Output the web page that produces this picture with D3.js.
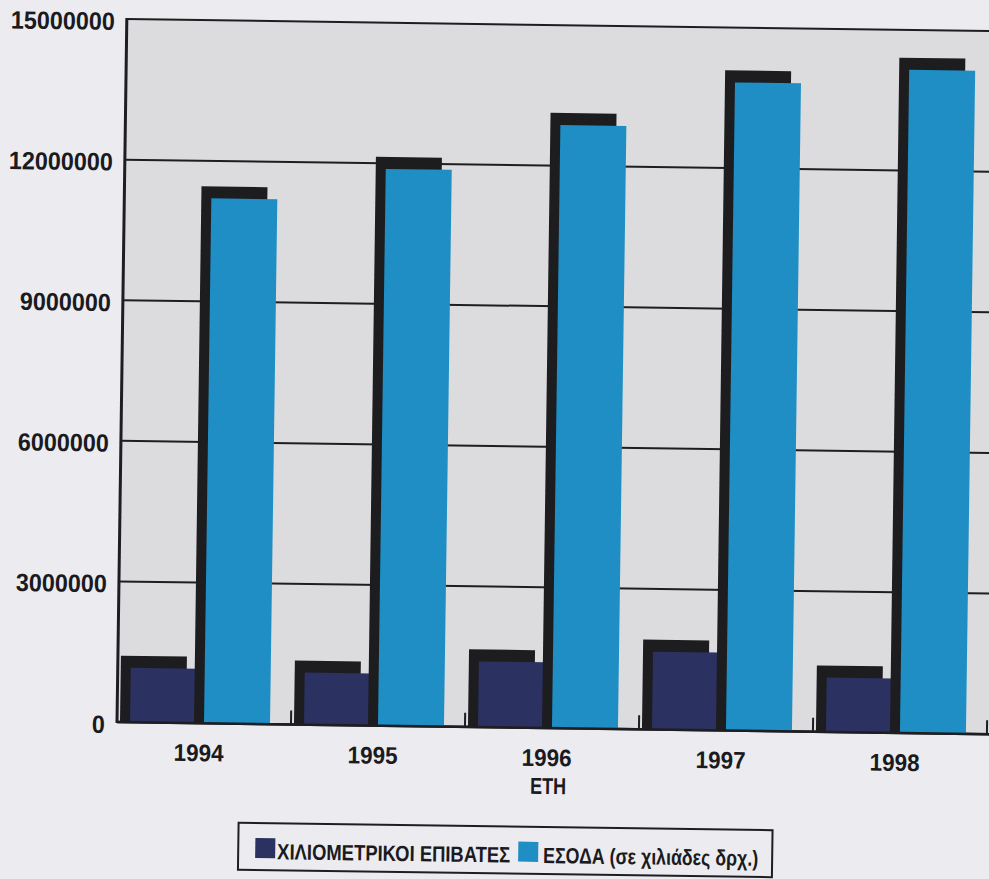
<!DOCTYPE html>
<html>
<head>
<meta charset="utf-8">
<script src="https://cdn.jsdelivr.net/npm/d3@7"></script>
<style>
  html, body { margin: 0; padding: 0; background: #ececf0; }
  svg { display: block; }
  text { font-family: "Liberation Sans Narrow", "Liberation Sans", "DejaVu Sans Condensed", Arial, sans-serif; font-weight: bold; fill: #1a1a20; }
</style>
</head>
<body>
<svg id="chart" width="989" height="879"></svg>
<script>
const years = ["1994", "1995", "1996", "1997", "1998"];
const seriesNames = ["ΧΙΛΙΟΜΕΤΡΙΚΟΙ ΕΠΙΒΑΤΕΣ", "ΕΣΟΔΑ (σε χιλιάδες δρχ.)"];
const passengerKm = [1160000, 1110000, 1400000, 1660000, 1160000];
const revenue = [11200000, 11880000, 12870000, 13830000, 14150000];
const yTicks = [0, 3000000, 6000000, 9000000, 12000000, 15000000];
const xTitle = "ΕΤΗ";

const seriesData = [passengerKm, revenue];
const colors = ["#2b3160", "#1e8ec4"];
const shadowColor = "#1d1d20";

const W = 989, H = 879;
const plotLeft = 117, plotBottom = 722, plotTop = 19, bandW = 174;
const svg = d3.select("#chart");
svg.append("rect").attr("width", W).attr("height", H).attr("fill", "#ececf0");

// whole scan is slightly tilted
const g = svg.append("g").attr("transform", `rotate(0.8, ${plotLeft}, ${plotBottom})`);

const x0 = d3.scaleBand().domain(years).range([plotLeft, plotLeft + bandW * years.length]).padding(0);
const x1 = d3.scaleBand().domain([0, 1]).range([13, 153]).paddingInner(8 / 74).paddingOuter(0);
const y = d3.scaleLinear().domain([0, 15000000]).range([plotBottom, plotTop]);

// plot background
g.append("rect").attr("x", plotLeft).attr("y", y(15000000))
  .attr("width", 1010 - plotLeft).attr("height", plotBottom - y(15000000))
  .attr("fill", "#dcdcdf");

// gridlines
g.append("g").selectAll("line").data(yTicks).join("line")
  .attr("x1", plotLeft).attr("x2", 1010)
  .attr("y1", d => y(d)).attr("y2", d => y(d))
  .attr("stroke", "#1e1e22").attr("stroke-width", d => d === 0 ? 2.5 : 2);

// y tick labels
g.append("g").selectAll("text").data(yTicks).join("text")
  .attr("x", 105).attr("y", d => y(d) + 11)
  .attr("text-anchor", "end")
  .attr("font-size", 25)
  .attr("textLength", d => String(d).length * 13)
  .attr("lengthAdjust", "spacingAndGlyphs")
  .text(d => String(d));

// bars
const groups = g.append("g").selectAll("g").data(years).join("g")
  .attr("transform", d => `translate(${x0(d)},0)`);

[0, 1].forEach(s => {
  const bw = x1.bandwidth();
  groups.append("rect")
    .attr("x", x1(s) - 10)
    .attr("y", (d, i) => y(seriesData[s][i]) - 12)
    .attr("width", bw)
    .attr("height", (d, i) => plotBottom - y(seriesData[s][i]) + 12)
    .attr("fill", shadowColor);
  groups.append("rect")
    .attr("x", x1(s))
    .attr("y", (d, i) => y(seriesData[s][i]))
    .attr("width", bw)
    .attr("height", (d, i) => plotBottom - y(seriesData[s][i]))
    .attr("fill", colors[s]);
});

// baseline redraw
g.append("line").attr("x1", plotLeft).attr("x2", 1010).attr("y1", plotBottom).attr("y2", plotBottom)
  .attr("stroke", "#1e1e22").attr("stroke-width", 2.5);

// small category separators
g.append("g").selectAll("line").data(years).join("line")
  .attr("x1", d => x0(d) + bandW).attr("x2", d => x0(d) + bandW)
  .attr("y1", plotBottom).attr("y2", plotBottom - 14)
  .attr("stroke", "#1e1e22").attr("stroke-width", 2);

// left axis
g.append("line").attr("x1", plotLeft).attr("x2", plotLeft).attr("y1", y(15000000) - 1).attr("y2", plotBottom + 1)
  .attr("stroke", "#1e1e22").attr("stroke-width", 3);

// x labels
g.append("g").selectAll("text").data(years).join("text")
  .attr("x", d => x0(d) + bandW / 2 - 5).attr("y", 760)
  .attr("text-anchor", "middle")
  .attr("font-size", 24)
  .attr("textLength", 50).attr("lengthAdjust", "spacingAndGlyphs")
  .text(d => d);

g.append("text").attr("x", 549).attr("y", 788)
  .attr("text-anchor", "middle").attr("font-size", 23)
  .attr("textLength", 36).attr("lengthAdjust", "spacingAndGlyphs")
  .text(xTitle);

// legend
const lg = g.append("g");
lg.append("rect").attr("x", 240).attr("y", 821).attr("width", 534).attr("height", 47)
  .attr("fill", "#ececf0").attr("stroke", "#1e1e22").attr("stroke-width", 2);
const legendItems = [
  { sw: 257, tx: 279, tw: 233 },
  { sw: 520, tx: 545, tw: 215 }
];
legendItems.forEach((it, i) => {
  lg.append("rect").attr("x", it.sw).attr("y", 836).attr("width", 20).attr("height", 20)
    .attr("fill", colors[i]);
  lg.append("text").attr("x", it.tx).attr("y", 857).attr("font-size", 22)
    .attr("textLength", it.tw).attr("lengthAdjust", "spacingAndGlyphs")
    .text(seriesNames[i]);
});
</script>
</body>
</html>
